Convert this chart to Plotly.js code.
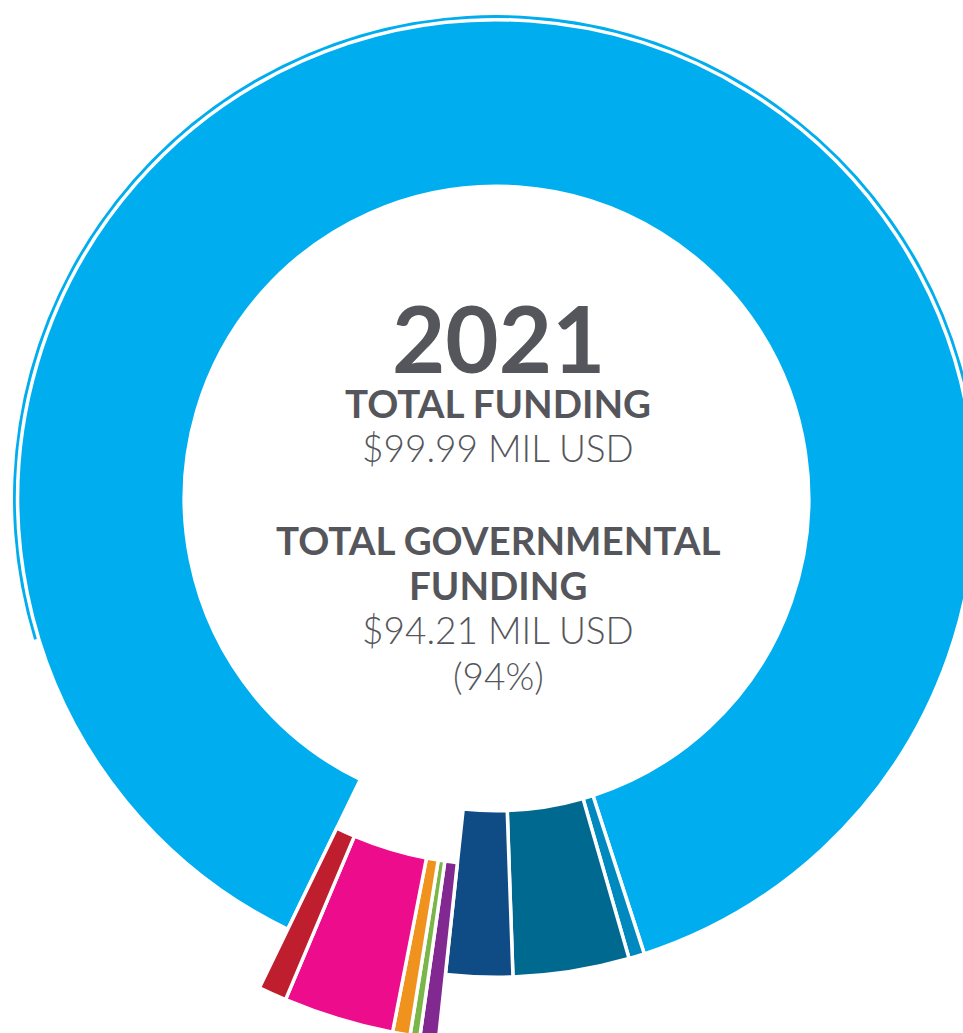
<!DOCTYPE html>
<html>
<head>
<meta charset="utf-8">
<script src="https://cdn.plot.ly/plotly-3.0.1.min.js"></script>
<style>
  html, body { margin: 0; padding: 0; width: 963px; height: 1033px; overflow: hidden; background: #ffffff; }
  #chart { position: absolute; left: -100px; top: -100px; width: 1200px; height: 1200px; }
</style>
</head>
<body>
<div id="chart"></div>
<script>
// ---------------- DATA ----------------
const segmentLabels = [
  'Governmental source 1', 'Governmental source 2', 'Governmental source 3', 'Governmental source 4',
  'Non-governmental source 1', 'Non-governmental source 2', 'Non-governmental source 3',
  'Non-governmental source 4', 'Non-governmental source 5'
];
// share of total funding, %
const segmentShares = [87.85, 0.53, 3.92, 2.25, 0.55, 0.29, 0.52, 3.28, 0.84];
const segmentSector = ['gov', 'gov', 'gov', 'gov', 'non', 'non', 'non', 'non', 'non'];

const yearLabel = '2021';
const totalFundingMil = 99.99;
const govFundingMil = 94.21;
const govFundingPct = 94;

// ---------------- STYLE ----------------
const segmentColors = ['#00AEEF', '#0089BF', '#006990', '#0F4C85',
                       '#812990', '#7AB648', '#F0931E', '#EC0C8C', '#BE1E2D'];
const textColor = '#55565B';
const fontFam = 'Lato, "Open Sans", sans-serif';
const LW = 3.5;                 // white separator width
const OFF = 100, PAPER = 1200;  // div offset & size
const CX = 496.5, CY = 498.5;   // centre in window px
const startAngle = 205.85;      // clockwise from 12 o'clock

function domainFor(rOuter) {
  const px = CX + OFF, py = CY + OFF;
  return { x: [(px - rOuter) / PAPER, (px + rOuter) / PAPER],
           y: [1 - (py + rOuter) / PAPER, 1 - (py - rOuter) / PAPER] };
}
function rot(a) { let r = a % 360; if (r > 180) r -= 360; return r; }
const clear = 'rgba(0,0,0,0)';

// main ring (governmental, not pulled)
const mainVisIn = 314, mainVisOut = 477;
const mainR = mainVisOut + LW / 2, mainHole = (mainVisIn - LW / 2) / mainR;
// pulled ring (non-governmental)
const outVisIn = 368, outVisOut = 542;
const outR = outVisOut + LW / 2, outHole = (outVisIn - LW / 2) / outR;

const traceMain = {
  type: 'pie', sort: false, direction: 'clockwise', rotation: rot(startAngle),
  labels: segmentLabels, values: segmentShares,
  hole: mainHole, domain: domainFor(mainR),
  marker: {
    colors: segmentColors.map((c, i) => segmentSector[i] === 'gov' ? c : clear),
    line: { color: segmentSector.map(s => s === 'gov' ? '#ffffff' : clear), width: LW }
  },
  textinfo: 'none', hoverinfo: 'label+percent', showlegend: false
};
const tracePulled = {
  type: 'pie', sort: false, direction: 'clockwise', rotation: rot(startAngle),
  labels: segmentLabels, values: segmentShares,
  hole: outHole, domain: domainFor(outR),
  marker: {
    colors: segmentColors.map((c, i) => segmentSector[i] === 'non' ? c : clear),
    line: { color: segmentSector.map(s => s === 'non' ? '#ffffff' : clear), width: LW }
  },
  textinfo: 'none', hoverinfo: 'label+percent', showlegend: false
};
// thin decorative outline arc outside the big slice
const arcVisIn = 480, arcVisOut = 483.5;
const arcStart = 253, arcSpan = 207;
const traceArc = {
  type: 'pie', sort: false, direction: 'clockwise', rotation: rot(arcStart),
  labels: ['outline', 'none'], values: [arcSpan, 360 - arcSpan],
  hole: arcVisIn / arcVisOut, domain: domainFor(arcVisOut),
  marker: { colors: [segmentColors[0], clear], line: { width: 0 } },
  textinfo: 'none', hoverinfo: 'skip', showlegend: false
};

// ---------------- centre text ----------------
function ann(text, yWin, size, weight) {
  return { text: text, xref: 'paper', yref: 'paper',
           x: (498 + OFF) / PAPER, y: 1 - (yWin + OFF) / PAPER,
           xanchor: 'center', yanchor: 'middle', showarrow: false,
           font: { family: fontFam, size: size, color: textColor, weight: weight } };
}
const fmt = v => '$' + v.toFixed(2) + ' MIL USD';
const annotations = [
  ann(yearLabel, 337.5, 92, 700),
  ann('TOTAL FUNDING', 403, 38.5, 700),
  ann(fmt(totalFundingMil), 447.5, 37, 300),
  ann('TOTAL GOVERNMENTAL', 540.5, 38.5, 700),
  ann('FUNDING', 585, 38.5, 700),
  ann(fmt(govFundingMil), 629, 37, 300),
  ann('(' + govFundingPct + '%)', 676, 37, 300)
];

Plotly.newPlot('chart', [traceArc, traceMain, tracePulled], {
  width: PAPER, height: PAPER,
  margin: { l: 0, r: 0, t: 0, b: 0 },
  paper_bgcolor: '#ffffff', plot_bgcolor: '#ffffff',
  showlegend: false,
  annotations: annotations
}, { displayModeBar: false, staticPlot: true });
</script>
</body>
</html>
